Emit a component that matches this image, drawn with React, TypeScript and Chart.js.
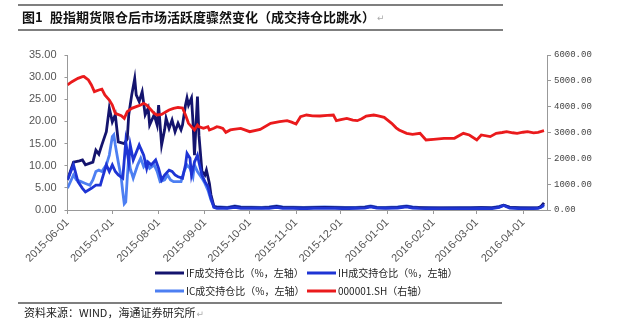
import React, { useEffect, useRef } from 'react';
import { Chart, registerables } from 'chart.js';
Chart.register(...registerables);

const monthTicks = ['2015-06-01','2015-07-01','2015-08-01','2015-09-01','2015-10-01','2015-11-01','2015-12-01','2016-01-01','2016-02-01','2016-03-01','2016-04-01'];
const X_END = '2016-04-17';

const ifDates = ['2015-06-01','2015-06-05','2015-06-09','2015-06-11','2015-06-13','2015-06-18','2015-06-20','2015-06-22','2015-06-24','2015-06-27','2015-06-29','2015-07-01','2015-07-03','2015-07-05','2015-07-09','2015-07-11','2015-07-12','2015-07-14','2015-07-16','2015-07-17','2015-07-19','2015-07-21','2015-07-23','2015-07-25','2015-07-26','2015-07-29','2015-07-31','2015-08-01','2015-08-03','2015-08-05','2015-08-06','2015-08-08','2015-08-10','2015-08-12','2015-08-14','2015-08-16','2015-08-17','2015-08-19','2015-08-20','2015-08-21','2015-08-23','2015-08-24','2015-08-25','2015-08-27','2015-08-28','2015-08-30','2015-09-01','2015-09-02','2015-09-04','2015-09-05','2015-09-07','2015-09-09'];
const ifValues = [6.8,10.8,11.1,11.3,10.2,10.8,13.5,12.6,14.7,17.7,23.0,19.9,21.5,15.4,15.0,16.0,21.5,26.0,29.7,26.0,24.5,26.7,21.5,23.0,19.2,21.5,19.2,23.7,14.7,18.1,20.7,18.4,20.3,17.7,19.6,18.1,19.2,23.7,25.3,23.7,25.3,19.9,12.4,25.6,16.9,8.7,7.9,9.0,6.0,3.5,0.8,0.6];

const ihDates = ['2015-06-01','2015-06-05','2015-06-08','2015-06-11','2015-06-13','2015-06-17','2015-06-20','2015-06-23','2015-06-24','2015-06-27','2015-06-29','2015-07-01','2015-07-03','2015-07-05','2015-07-08','2015-07-10','2015-07-12','2015-07-13','2015-07-15','2015-07-19','2015-07-20','2015-07-22','2015-07-24','2015-07-25','2015-07-27','2015-07-30','2015-08-01','2015-08-03','2015-08-05','2015-08-08','2015-08-10','2015-08-12','2015-08-14','2015-08-17','2015-08-19','2015-08-20','2015-08-22','2015-08-23','2015-08-25','2015-08-27','2015-08-28','2015-08-30','2015-09-01','2015-09-03','2015-09-05','2015-09-07','2015-09-09'];
const ihValues = [6.8,10.2,6.4,4.9,4.1,4.9,5.6,5.6,6.8,10.2,8.7,10.2,8.7,7.9,7.2,15.4,10.8,14.7,11.3,14.7,13.9,12.4,9.4,10.8,10.2,11.3,9.4,6.8,7.9,9.0,8.7,7.9,7.5,7.2,10.2,12.8,11.7,7.9,10.8,12.4,10.8,7.9,6.4,5.3,2.7,0.6,0.4];

const icDates = ['2015-06-01','2015-06-05','2015-06-07','2015-06-10','2015-06-13','2015-06-16','2015-06-18','2015-06-20','2015-06-22','2015-06-24','2015-06-27','2015-06-29','2015-07-01','2015-07-02','2015-07-03','2015-07-05','2015-07-07','2015-07-08','2015-07-09','2015-07-10','2015-07-11','2015-07-12','2015-07-13','2015-07-15','2015-07-18','2015-07-20','2015-07-22','2015-07-24','2015-07-26','2015-07-29','2015-07-31','2015-08-02','2015-08-05','2015-08-07','2015-08-09','2015-08-11','2015-08-14','2015-08-16','2015-08-18','2015-08-20','2015-08-22','2015-08-24','2015-08-25','2015-08-27','2015-08-30','2015-09-01','2015-09-03','2015-09-05','2015-09-07','2015-09-09'];
const icValues = [4.9,7.9,6.8,6.4,6.0,5.6,6.8,8.7,9.0,8.7,10.2,12.4,16.6,17.0,14.7,10.8,7.2,4.1,1.4,1.8,7.2,12.0,9.4,7.2,10.2,11.7,9.8,10.8,9.4,10.2,8.7,6.4,6.8,7.9,6.8,6.4,6.4,6.4,8.7,10.2,9.4,7.5,10.2,8.7,7.2,6.0,4.5,2.3,0.8,0.7];

const lateDates = ['2015-09-11','2015-09-16','2015-09-21','2015-09-25','2015-10-09','2015-10-14','2015-10-19','2015-10-23','2015-10-30','2015-11-06','2015-11-13','2015-11-20','2015-11-27','2015-12-04','2015-12-11','2015-12-17','2015-12-21','2015-12-25','2015-12-31','2016-01-08','2016-01-14','2016-01-18','2016-01-22','2016-01-29','2016-02-05','2016-02-19','2016-02-26','2016-03-04','2016-03-11','2016-03-16','2016-03-19','2016-03-23','2016-03-30','2016-04-06','2016-04-11','2016-04-13','2016-04-15'];
const ifLate = [0.6,0.5,0.8,0.6,0.5,0.6,0.8,0.6,0.55,0.5,0.55,0.6,0.55,0.5,0.5,0.6,0.8,0.55,0.5,0.6,0.8,0.6,0.55,0.5,0.45,0.5,0.5,0.55,0.5,0.7,1.1,0.6,0.5,0.45,0.5,0.8,1.6];
const ihLate = [0.4,0.35,0.6,0.4,0.35,0.4,0.6,0.4,0.35,0.3,0.35,0.4,0.35,0.3,0.35,0.4,0.7,0.4,0.35,0.45,0.7,0.45,0.35,0.3,0.3,0.3,0.3,0.35,0.3,0.6,1.0,0.4,0.3,0.3,0.35,0.6,1.2];
const icLate = [0.7,0.6,0.9,0.7,0.6,0.7,0.9,0.7,0.65,0.6,0.65,0.7,0.65,0.6,0.6,0.7,0.9,0.65,0.6,0.7,0.9,0.7,0.6,0.55,0.5,0.55,0.55,0.6,0.55,0.8,1.1,0.65,0.55,0.5,0.55,0.7,0.9];

const shDates = ['2015-06-01','2015-06-04','2015-06-08','2015-06-11','2015-06-12','2015-06-15','2015-06-17','2015-06-19','2015-06-22','2015-06-24','2015-06-26','2015-06-29','2015-07-01','2015-07-03','2015-07-07','2015-07-09','2015-07-11','2015-07-14','2015-07-17','2015-07-20','2015-07-22','2015-07-24','2015-07-27','2015-07-29','2015-07-31','2015-08-03','2015-08-06','2015-08-08','2015-08-11','2015-08-14','2015-08-17','2015-08-19','2015-08-21','2015-08-24','2015-08-25','2015-08-27','2015-08-28','2015-08-31','2015-09-03','2015-09-04','2015-09-07','2015-09-09','2015-09-11','2015-09-13','2015-09-15','2015-09-18','2015-09-20','2015-09-25','2015-10-01','2015-10-08','2015-10-15','2015-10-21','2015-10-26','2015-10-29','2015-11-01','2015-11-04','2015-11-08','2015-11-12','2015-11-17','2015-11-22','2015-11-26','2015-11-28','2015-12-01','2015-12-05','2015-12-09','2015-12-12','2015-12-15','2015-12-18','2015-12-23','2015-12-26','2015-12-30','2016-01-04','2016-01-07','2016-01-09','2016-01-14','2016-01-18','2016-01-23','2016-01-27','2016-02-01','2016-02-08','2016-02-15','2016-02-21','2016-02-25','2016-03-01','2016-03-04','2016-03-10','2016-03-14','2016-03-18','2016-03-21','2016-03-25','2016-03-28','2016-04-01','2016-04-04','2016-04-08','2016-04-11','2016-04-15'];
const shValues = [4839,4968,5097,5161,5166,5032,4839,4580,4645,4680,4452,4258,4065,3742,3650,3548,3806,3935,4000,4065,4129,4065,3871,3742,3677,3700,3806,3870,3935,3968,3950,3677,3355,3161,3097,3290,3225,3161,3226,3097,3161,3225,3200,3160,3006,3100,3122,3160,3032,3122,3355,3419,3458,3400,3329,3613,3677,3640,3639,3660,3677,3458,3500,3548,3480,3458,3530,3639,3677,3640,3587,3355,3180,3097,2968,2930,2968,2710,2736,2775,2775,2968,2904,2710,2904,2840,2968,3000,3032,2990,2968,3010,3032,2985,3006,3071];

const seriesNames = ['IF成交持仓比（%，左轴）','IH成交持仓比（%，左轴）','IC成交持仓比（%，左轴）','000001.SH（右轴）'];
const seriesColors = ['#14146E','#1E34D4','#4D7FF2','#EA1A1C'];
const titleNo = '图1';
const titleText = '股指期货限仓后市场活跃度骤然变化（成交持仓比跳水）';
const sourceText = '资料来源：WIND，海通证券研究所';

const BASE = Date.UTC(2015, 5, 1);
const toDay = (s: string) => {
  const [y, m, d] = s.split('-').map(Number);
  return (Date.UTC(y, m - 1, d) - BASE) / 86400000;
};
const pts = (dates: string[], vals: number[]) => dates.map((d, i) => ({ x: toDay(d), y: vals[i] }));

const decor = {
  id: 'decor',
  afterDraw(chart: any) {
    const ctx = chart.ctx;
    ctx.save();
    ctx.strokeStyle = '#555';
    ctx.lineWidth = 1.5;
    [[5, 18, 503], [30, 18, 503], [303, 18, 502]].forEach(([y, x1, x2]) => {
      ctx.beginPath(); ctx.moveTo(x1, y); ctx.lineTo(x2, y); ctx.stroke();
    });
    ctx.fillStyle = '#111';
    ctx.textBaseline = 'middle';
    ctx.font = 'bold 13px "Noto Sans CJK SC"';
    ctx.fillText(titleNo, 22, 17);
    ctx.fillText(titleText, 50, 17);
    const tw = ctx.measureText(titleText).width;
    ctx.fillStyle = '#aaa';
    ctx.font = '9px "DejaVu Sans"';
    ctx.fillText('↵', 52 + tw, 19);
    ctx.fillStyle = '#222';
    ctx.font = '11px "Noto Sans CJK SC"';
    ctx.fillText(sourceText, 24, 313);
    const sw = ctx.measureText(sourceText).width;
    ctx.fillStyle = '#aaa';
    ctx.font = '9px "DejaVu Sans"';
    ctx.fillText('↵', 25 + sw, 315);
    const items = [
      [155, 273], [307, 273], [155, 291], [307, 291],
    ];
    ctx.font = '10px "Noto Sans CJK SC"';
    items.forEach(([x, y], i) => {
      ctx.strokeStyle = seriesColors[i];
      ctx.lineWidth = 3;
      ctx.beginPath(); ctx.moveTo(x, y); ctx.lineTo(x + 29, y); ctx.stroke();
      ctx.fillStyle = '#222';
      ctx.fillText(seriesNames[i], x + 31, y);
    });
    ctx.restore();
  },
};

export default function App() {
  const ref = useRef<HTMLCanvasElement>(null);
  useEffect(() => {
    const tickVals = monthTicks.map(toDay);
    const tickFont = { family: '"Liberation Sans", Arial', size: 11 };
    const chart = new Chart(ref.current!, {
      type: 'line',
      data: {
        datasets: [
          { label: seriesNames[0], data: pts(ifDates.concat(lateDates), ifValues.concat(ifLate)), borderColor: seriesColors[0], yAxisID: 'y', order: 2 },
          { label: seriesNames[1], data: pts(ihDates.concat(lateDates), ihValues.concat(ihLate)), borderColor: seriesColors[1], yAxisID: 'y', order: 1 },
          { label: seriesNames[2], data: pts(icDates.concat(lateDates), icValues.concat(icLate)), borderColor: seriesColors[2], yAxisID: 'y', order: 3 },
          { label: seriesNames[3], data: pts(shDates, shValues), borderColor: seriesColors[3], yAxisID: 'y1', order: 0 },
        ],
      },
      options: {
        animation: false,
        responsive: false,
        parsing: false as any,
        normalized: true,
        elements: { point: { radius: 0 }, line: { borderWidth: 2.8, tension: 0 } },
        layout: { padding: { left: 17.5, right: 17, top: 55, bottom: 53 } },
        plugins: { legend: { display: false }, tooltip: { enabled: false } },
        scales: {
          x: {
            type: 'linear',
            min: 0,
            max: toDay(X_END),
            afterBuildTicks: (s: any) => { s.ticks = tickVals.map((v) => ({ value: v })); },
            afterFit: (s: any) => { s.height = 60; },
            grid: { drawOnChartArea: false, drawTicks: true, tickLength: 4, color: '#999' },
            border: { color: '#999', width: 1 },
            ticks: {
              autoSkip: false,
              minRotation: 45,
              maxRotation: 45,
              padding: 2,
              color: '#555',
              font: tickFont,
              callback: (v: any) => {
                const i = tickVals.indexOf(v);
                return i >= 0 ? monthTicks[i] : '';
              },
            },
          },
          y: {
            position: 'left',
            min: 0,
            max: 35,
            afterFit: (s: any) => { s.width = 50; },
            grid: { drawOnChartArea: false, drawTicks: true, tickLength: 3, color: '#999' },
            border: { color: '#999', width: 1 },
            ticks: { stepSize: 5, padding: 8, color: '#555', font: tickFont, callback: (v: any) => Number(v).toFixed(2) },
          },
          y1: {
            position: 'right',
            min: 0,
            max: 6000,
            afterFit: (s: any) => { s.width = 80; },
            grid: { drawOnChartArea: false, drawTicks: true, tickLength: 4, color: '#999' },
            border: { color: '#999', width: 1 },
            ticks: { stepSize: 1000, padding: 3, color: '#444', font: { family: '"Liberation Mono", monospace', size: 9 }, callback: (v: any) => Number(v).toFixed(2) },
          },
        },
      },
      plugins: [decor],
    } as any);
    return () => chart.destroy();
  }, []);
  return (
    <div style={{ position: 'absolute', left: 0, top: 0, width: 644, height: 323, background: '#fff' }}>
      <canvas ref={ref} width={644} height={323} style={{ display: 'block' }} />
    </div>
  );
}
